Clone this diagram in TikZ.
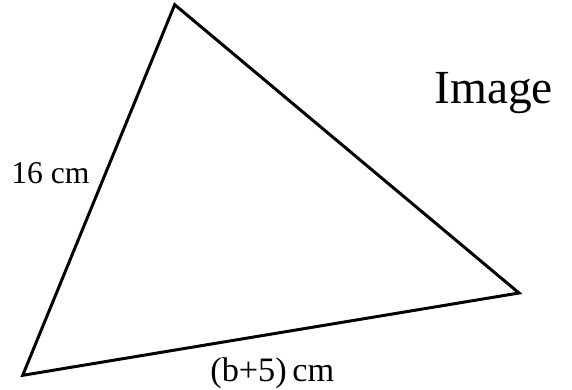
\documentclass[tikz,border=0pt]{standalone}
\usepackage{fontspec}
\setmainfont{Liberation Serif}
\begin{document}
\begin{tikzpicture}[line join=miter,
          side/.style={line width=1.7pt},
          lbl/.style={inner sep=0pt, anchor=base west, font=\fontsize{18}{20}\selectfont},
          title/.style={inner sep=0pt, anchor=base west, font=\fontsize{27}{30}\selectfont}]
        % picture is 572 x 389 px at 0.02 cm per px
        \useasboundingbox (0,0) rectangle (11.44,7.78);
        \coordinate (apex) at (3.494,7.686);
        \coordinate (right) at (10.38,1.92);
        \coordinate (left) at (0.454,0.274);
        \draw[side] (apex) -- (right) -- (left) -- cycle;
        \node[lbl] (sideA) at (0.22,4.12) {16 cm};
        \node[lbl, font=\fontsize{19.5}{22}\selectfont] (sideB) at (4.20,0.16) {(b+5)\,cm};
        \node[title] (img) at (8.68,5.72) {Image};
      \end{tikzpicture}
\end{document}
